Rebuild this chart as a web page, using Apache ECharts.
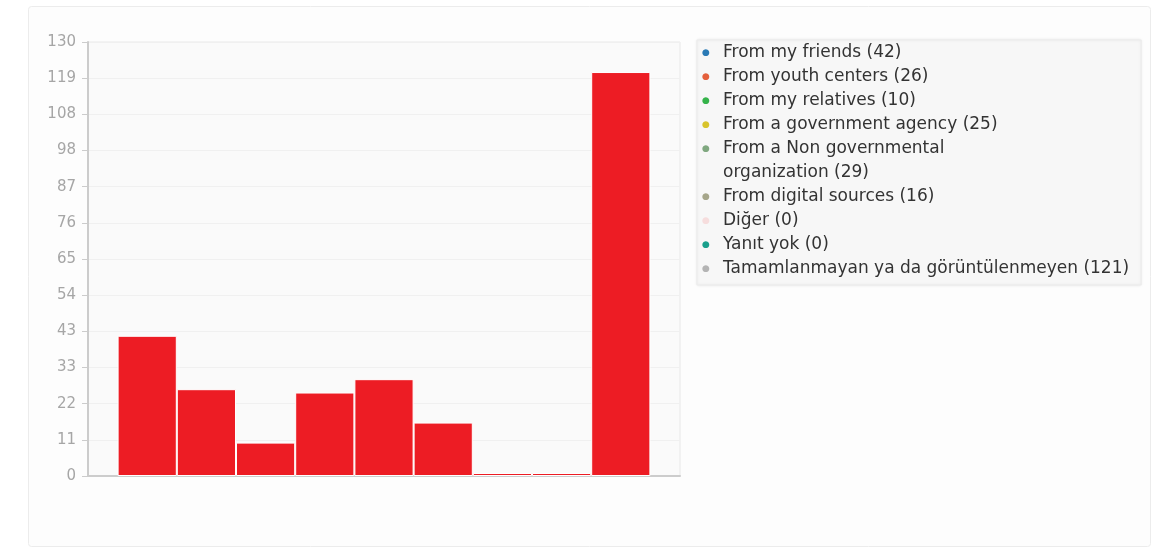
<!DOCTYPE html>
<html>
<head>
<meta charset="utf-8">
<script src="https://cdn.jsdelivr.net/npm/echarts@6/dist/echarts.min.js"></script>
<style>
  html, body { margin: 0; padding: 0; background: #fff; }
  #main { width: 1159px; height: 550px; }
</style>
</head>
<body>
<div id="main"></div>
<script>
// answer names and counts (counts also shown in legend)
var names = [
  'From my friends',
  'From youth centers',
  'From my relatives',
  'From a government agency',
  'From a Non governmental organization',
  'From digital sources',
  'Diğer',
  'Yanıt yok',
  'Tamamlanmayan ya da görüntülenmeyen'
];
var counts = [42, 26, 10, 25, 29, 16, 0, 0, 121];
// legend marker colours, bars are all drawn red
var markColors = ['#2a7ab5', '#e4603c', '#35b34a', '#d8c42c', '#80a880', '#a6a68a', '#f6dddd', '#1aa08c', '#b4b4b4'];
var barColor = '#ed1c24';
var font = "'DejaVu Sans', sans-serif";

var myChart = echarts.init(document.getElementById('main'));

var series = [];
var rich = {
  t: { fontSize: 17, color: '#333', lineHeight: 24, fontFamily: font },
  ind: { width: 21, lineHeight: 24 }
};
for (var i = 0; i < names.length; i++) {
  series.push({
    name: names[i],
    type: 'bar',
    data: [counts[i]],
    barGap: '0%',
    barCategoryGap: '10%',
    barMinHeight: 3,
    itemStyle: { color: barColor, borderColor: '#ffffff', borderWidth: 1 }
  });
  // marker dot drawn as text so it sits on the first line of wrapped names
  rich['d' + i] = { fontSize: 9, color: markColors[i], width: 21, lineHeight: 24, fontFamily: font };
}

myChart.setOption({
  backgroundColor: '#ffffff',
  textStyle: { fontFamily: font },
  animation: false,
  graphic: [{
    type: 'rect',
    left: 28, top: 6,
    shape: { width: 1122, height: 540, r: 3 },
    style: { fill: '#fdfdfd', stroke: '#ececec', lineWidth: 1 },
    z: -10
  }],
  grid: {
    left: 88, top: 42, width: 592, height: 434,
    show: true,
    backgroundColor: '#fafafa',
    borderColor: '#e8e8e8',
    borderWidth: 1
  },
  legend: {
    orient: 'vertical',
    left: 697, top: 40,
    padding: [1, 12, 4, 0],
    backgroundColor: '#f7f7f7',
    borderColor: '#ebebeb',
    borderWidth: 1,
    shadowColor: 'rgba(0,0,0,0.08)',
    shadowBlur: 3,
    icon: 'none',
    itemWidth: 0, itemHeight: 0,
    itemTextGap: 0,
    itemGap: 0,
    data: names,
    formatter: function (name) {
      var i = names.indexOf(name);
      var dot = '{d' + i + '|●}';
      if (name === 'From a Non governmental organization') {
        return dot + '{t|From a Non governmental}\n{ind|}{t|organization (' + counts[i] + ')}';
      }
      return dot + '{t|' + name + ' (' + counts[i] + ')}';
    },
    textStyle: { color: '#333', fontSize: 17, lineHeight: 24, fontFamily: font, rich: rich }
  },
  xAxis: {
    type: 'category',
    data: [''],
    axisLine: { lineStyle: { color: '#cccccc', width: 2 } },
    axisTick: { show: false },
    axisLabel: { show: false },
    splitLine: { show: false }
  },
  yAxis: {
    type: 'value',
    min: 0, max: 130, interval: 130 / 12,
    axisLine: { show: true, lineStyle: { color: '#cccccc', width: 2 } },
    axisTick: { show: true, length: 6, lineStyle: { color: '#cccccc' } },
    axisLabel: {
      color: '#a6a6a6', fontSize: 15, margin: 12, fontFamily: font,
      formatter: function (v) { return Math.round(v + 1e-6); }
    },
    splitLine: { show: true, lineStyle: { color: '#f0f0f0' } }
  },
  series: series
});
</script>
</body>
</html>
